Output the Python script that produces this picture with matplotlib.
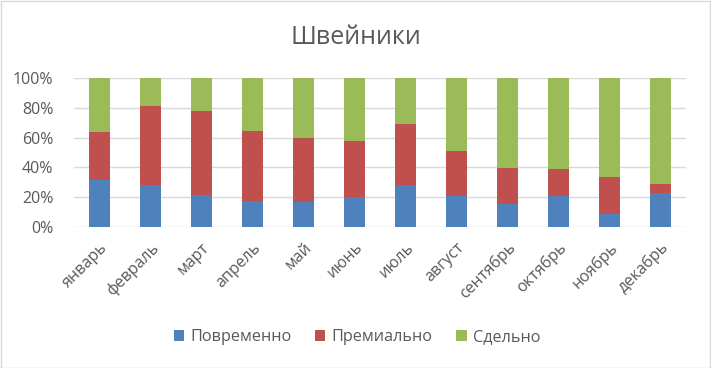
import matplotlib
matplotlib.use("Agg")
import matplotlib.pyplot as plt
from matplotlib.patches import Rectangle
from matplotlib.ticker import PercentFormatter
import numpy as np

plt.rcParams['font.family'] = ['Open Sans', 'DejaVu Sans']

months = ["январь", "февраль", "март", "апрель", "май", "июнь",
          "июль", "август", "сентябрь", "октябрь", "ноябрь", "декабрь"]
povremenno = [31.5, 27.9, 21.8, 17.3, 17.1, 20.0, 28.5, 21.1, 15.7, 21.1, 8.8, 22.5]
premialno = [32.1, 53.0, 56.0, 47.4, 42.9, 37.5, 40.5, 29.7, 23.6, 17.6, 24.5, 6.5]
sdelno = [36.4, 19.1, 22.2, 35.3, 40.0, 42.5, 31.0, 49.2, 60.7, 61.3, 66.7, 71.0]
series_names = ["Повременно", "Премиально", "Сдельно"]
colors = ["#4F81BD", "#C0504D", "#9BBB59"]
title = "Швейники"

W, H = 711, 368
fig = plt.figure(figsize=(W / 100, H / 100), dpi=100)
ax = fig.add_axes([74 / W, 1 - 227 / H, (686 - 74) / W, (227 - 78) / H])

data = np.array([povremenno, premialno, sdelno], dtype=float)
data = data / data.sum(axis=0) * 100
x = np.arange(len(months))
bottom = np.zeros(len(months))
for vals, name, c in zip(data, series_names, colors):
    ax.bar(x, vals, bottom=bottom, width=0.41, color=c, label=name, zorder=3)
    bottom += vals

ax.set_xlim(-0.5, len(months) - 0.5)
ax.set_ylim(0, 100)
ax.set_yticks(np.arange(0, 101, 20))
ax.yaxis.set_major_formatter(PercentFormatter(decimals=0))
ax.grid(axis='y', color='#D9D9D9', linewidth=1.0, zorder=0)
for s in ax.spines.values():
    s.set_visible(False)
ax.tick_params(axis='both', length=0, colors='#595959', labelsize=11.5)
ax.tick_params(axis='y', pad=15)
ax.set_xticks(x)
ax.set_xticklabels(months, rotation=45, ha='right', rotation_mode='anchor')
ax.tick_params(axis='x', pad=9)

fig.text(0.5, 1 - 37 / H, title, ha='center', va='center', fontsize=18, color='#595959')

handles, labels = ax.get_legend_handles_labels()
fig.legend(handles, labels, loc='center', bbox_to_anchor=(357 / W, 1 - 337 / H), ncol=3,
           frameon=False, fontsize=11.7, handlelength=0.62, handleheight=0.62,
           handletextpad=0.37, columnspacing=1.48, labelcolor='#595959')

fig.patches.append(Rectangle((0.5 / W, 0.5 / H), 1 - 1.5 / W, 1 - 1.5 / H, transform=fig.transFigure,
                             fill=False, edgecolor='#D9D9D9', linewidth=1))

fig.savefig("out.png", dpi=100)
